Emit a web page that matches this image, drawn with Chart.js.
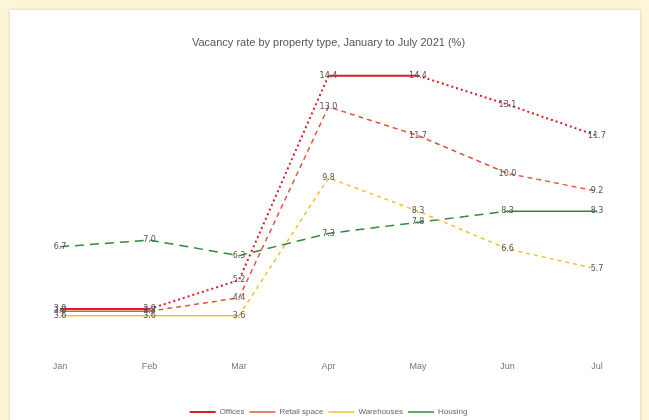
<!DOCTYPE html>
<html>
<head>
<meta charset="utf-8">
<script src="https://cdn.jsdelivr.net/npm/chart.js@4.4.1/dist/chart.umd.min.js"></script>
<style>
    body { margin: 0; background: #fdf5d7; font-family: "DejaVu Sans", sans-serif; overflow: hidden; }
    #panel {
        position: absolute; left: 10px; top: 10px; width: 630px; height: 416px;
        background: #fff; box-shadow: 0 0 3px rgba(0,0,0,0.18);
    }
</style>
</head>
<body>
<div id="panel"><canvas id="myChart" width="630" height="416"></canvas></div>
<script>
// data
const months = ['Jan', 'Feb', 'Mar', 'Apr', 'May', 'Jun', 'Jul'];
const seriesNames = ['Offices', 'Retail space', 'Warehouses', 'Housing'];
const offices = [3.9, 3.9, 5.2, 14.4, 14.4, 13.1, 11.7];
const retail = [3.8, 3.8, 4.4, 13.0, 11.7, 10.0, 9.2];
const warehouses = [3.6, 3.6, 3.6, 9.8, 8.3, 6.6, 5.7];
const housing = [6.7, 7.0, 6.3, 7.3, 7.8, 8.3, 8.3];

const chartTitle = 'Vacancy rate by property type, January to July 2021 (%)';

// flat stretches are drawn solid, changes dashed
const dashWhenMoving = (dash) => (c) =>
    c.p0.parsed.y === c.p1.parsed.y ? [] : dash;

const makeSet = (label, data, color, width, dash) => ({
    label: label,
    data: data,
    borderColor: color,
    backgroundColor: color,
    borderWidth: width,
    borderDash: dash,
    pointRadius: 0,
    pointStyle: 'line',
    tension: 0,
    segment: { borderDash: dashWhenMoving(dash) }
});

const pointLabels = {
    id: 'pointLabels',
    afterDatasetsDraw(chart) {
        const ctx = chart.ctx;
        ctx.save();
        ctx.font = '8px "DejaVu Sans"';
        ctx.textAlign = 'center';
        ctx.textBaseline = 'middle';
        chart.data.datasets.forEach((ds, i) => {
            chart.getDatasetMeta(i).data.forEach((pt, j) => {
                ctx.fillStyle = '#555';
                ctx.fillText(ds.data[j].toFixed(1), pt.x, pt.y);
            });
        });
        ctx.restore();
    }
};

const ctx = document.getElementById('myChart').getContext('2d');
const myChart = new Chart(ctx, {
    type: 'line',
    data: {
        labels: months,
        datasets: [
            makeSet(seriesNames[0], offices, '#d91e2a', 2, [2, 3]),
            makeSet(seriesNames[1], retail, '#e2553f', 1.5, [5, 4]),
            makeSet(seriesNames[2], warehouses, '#f2c12e', 1.5, [4, 4]),
            makeSet(seriesNames[3], housing, '#2f8a3c', 1.5, [9, 6])
        ]
    },
    options: {
        responsive: false,
        animation: false,
        layout: { padding: { left: 50, right: 43, top: 0, bottom: 0 } },
        plugins: {
            title: {
                display: true,
                text: chartTitle,
                color: '#555',
                font: { size: 11, weight: 'normal' },
                padding: { top: 26, bottom: 14 }
            },
            legend: {
                position: 'bottom',
                labels: {
                    color: '#666',
                    font: { size: 8 },
                    usePointStyle: true,
                    pointStyleWidth: 26,
                    boxHeight: 8,
                    padding: 5
                }
            },
            tooltip: { enabled: false }
        },
        scales: {
            x: {
                grid: { display: false },
                border: { display: false },
                ticks: { color: '#777', font: { size: 9 }, padding: 6 },
                afterFit: (s) => { s.height += 25; }
            },
            y: {
                display: false,
                min: 2.18,
                max: 14.96
            }
        }
    },
    plugins: [pointLabels]
});
</script>
</body>
</html>
